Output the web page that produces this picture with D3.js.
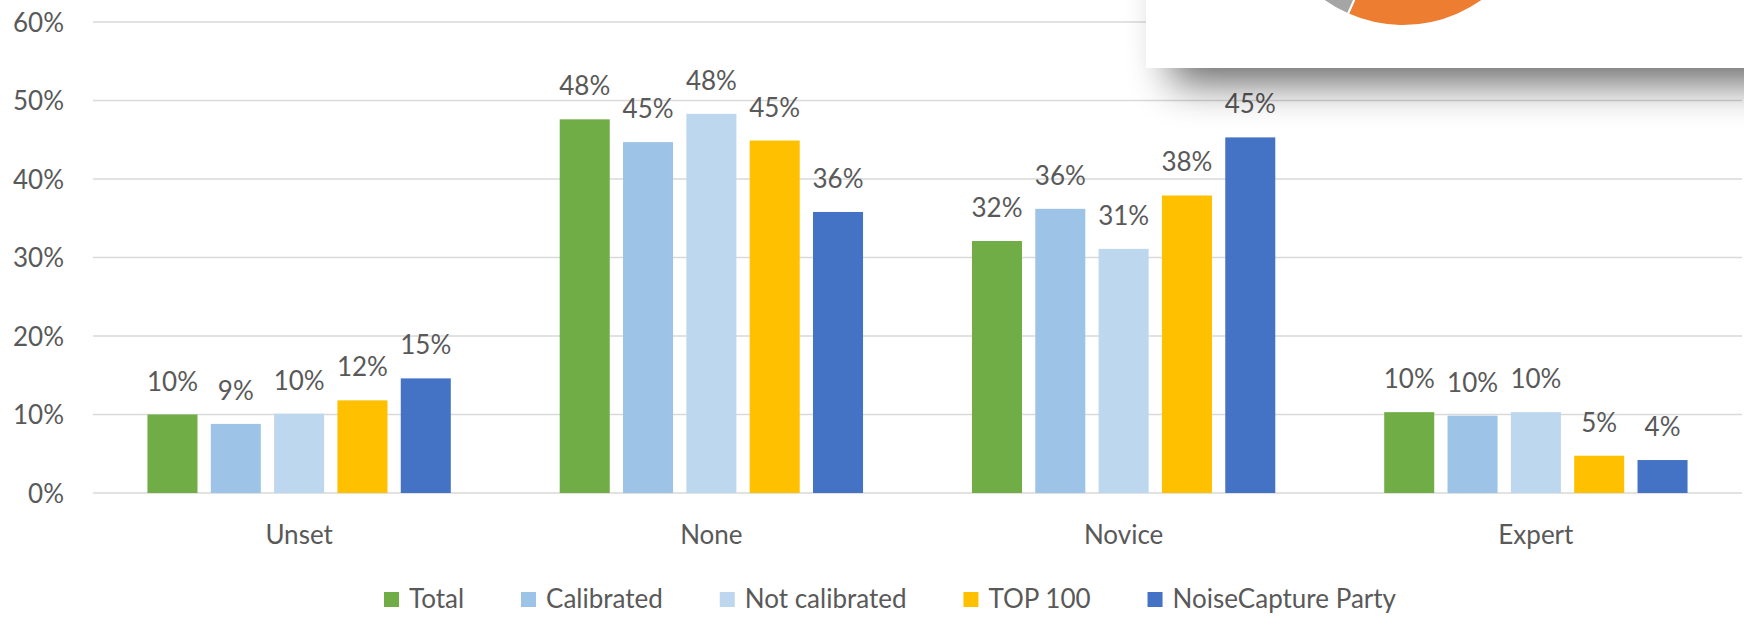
<!DOCTYPE html>
<html>
<head>
<meta charset="utf-8">
<script src="https://cdn.jsdelivr.net/npm/d3@7"></script>
<style>
  html, body { margin: 0; padding: 0; background: #ffffff; }
  svg { display: block; }
  text { font-family: Lato, "Noto Sans", sans-serif; fill: #595959; }
</style>
</head>
<body>
<svg id="chart" width="1744" height="617"></svg>
<script>
// ---- data (percent) ----
const categories = ["Unset", "None", "Novice", "Expert"];
const seriesNames = ["Total", "Calibrated", "Not calibrated", "TOP 100", "NoiseCapture Party"];
const totalValues        = [10.0, 47.6, 32.1, 10.3];
const calibratedValues   = [8.8, 44.7, 36.2, 9.85];
const notCalibratedValues= [10.1, 48.3, 31.1, 10.3];
const top100Values       = [11.8, 44.9, 37.9, 4.75];
const partyValues        = [14.6, 35.8, 45.3, 4.2];
const yTicks = [0, 10, 20, 30, 40, 50, 60];
// fragment of an overlapping pie chart (angles in radians, clockwise from 12 o'clock)
const insetSlices = [
  { name: "orange", start: 1.9, end: 3.56 },
  { name: "gray",   start: 3.56, end: 4.3 }
];

(function() {
const seriesValues = [totalValues, calibratedValues, notCalibratedValues, top100Values, partyValues];
const colors = ["#70AD47", "#9DC3E6", "#BDD7EE", "#FFC000", "#4472C4"];

const svg = d3.select("#chart");
const plotL = 93, plotR = 1742, plotT = 22, plotB = 493;

const x0 = d3.scaleBand().domain(categories).range([plotL, plotR]).paddingInner(0).paddingOuter(0);
const x1 = d3.scaleBand().domain(seriesNames).range([0, x0.bandwidth()]).paddingInner(0.21).paddingOuter(0.86);
const y = d3.scaleLinear().domain([0, 60]).range([plotB, plotT]);

// gridlines
svg.append("g").selectAll("line").data(yTicks).join("line")
  .attr("x1", plotL).attr("x2", plotR)
  .attr("y1", d => y(d)).attr("y2", d => y(d))
  .attr("stroke", "#D9D9D9").attr("stroke-width", 1.6);

// y axis labels
const yAxis = d3.axisLeft(y).tickValues(yTicks).tickFormat(d => d + "%").tickSize(0).tickPadding(0);
const yg = svg.append("g").attr("transform", "translate(64,0)").call(yAxis);
yg.select(".domain").remove();
yg.selectAll("text").attr("font-size", 26).attr("font-family", "Lato, 'Noto Sans', sans-serif").attr("fill", "#595959").attr("dy", "0.36em");

// bars
const groups = svg.append("g").selectAll("g").data(categories).join("g")
  .attr("transform", d => `translate(${x0(d)},0)`);

groups.each(function(cat, ci) {
  const g = d3.select(this);
  const rows = seriesNames.map((s, si) => ({ s, si, v: seriesValues[si][ci] }));
  g.selectAll("rect").data(rows).join("rect")
    .attr("x", d => x1(d.s)).attr("width", x1.bandwidth())
    .attr("y", d => y(d.v)).attr("height", d => y(0) - y(d.v))
    .attr("fill", d => colors[d.si]);
  g.selectAll("text.lbl").data(rows).join("text").attr("class", "lbl")
    .attr("x", d => x1(d.s) + x1.bandwidth() / 2)
    .attr("y", d => y(d.v) - 24)
    .attr("text-anchor", "middle").attr("font-size", 26)
    .text(d => Math.round(d.v) + "%");
});

// x axis category labels
const xAxis = d3.axisBottom(x0).tickSize(0).tickPadding(0);
const xg = svg.append("g").attr("transform", "translate(0,544)").call(xAxis);
xg.select(".domain").remove();
xg.selectAll("text").attr("font-size", 26).attr("font-family", "Lato, 'Noto Sans', sans-serif").attr("fill", "#595959").attr("dy", 0);

// legend
const legend = svg.append("g");
const lx0 = 384, lx1 = 1396, sq = 15, sqPad = 10;
const items = legend.selectAll("g").data(seriesNames).join("g");
items.append("rect").attr("width", sq).attr("height", sq).attr("y", 592)
  .attr("fill", (d, i) => colors[i]);
items.append("text").attr("x", sq + sqPad).attr("y", 608).attr("font-size", 26).text(d => d);
const widths = [];
items.each(function() { widths.push(sq + sqPad + d3.select(this).select("text").node().getComputedTextLength()); });
const gap = (lx1 - lx0 - d3.sum(widths)) / (seriesNames.length - 1);
let cx = lx0;
items.attr("transform", (d, i) => { const t = `translate(${cx},0)`; cx += widths[i] + gap; return t; });

// overlapping window with drop shadow (top-right)
const defs = svg.append("defs");
const f = defs.append("filter").attr("id", "blur").attr("x", "-50%").attr("y", "-50%").attr("width", "200%").attr("height", "200%");
f.append("feGaussianBlur").attr("stdDeviation", 21);
svg.append("rect").attr("x", 1171).attr("y", -200).attr("width", 800).attr("height", 283)
  .attr("fill", "#000").attr("opacity", 0.6).attr("filter", "url(#blur)");
svg.append("rect").attr("x", 1146).attr("y", -5).attr("width", 620).attr("height", 73).attr("fill", "#ffffff");
defs.append("clipPath").attr("id", "boxclip").append("rect").attr("x", 1146).attr("y", 0).attr("width", 600).attr("height", 68);
const arc = d3.arc().innerRadius(0).outerRadius(136).startAngle(d => d.start).endAngle(d => d.end);
svg.append("g").attr("clip-path", "url(#boxclip)")
  .append("g").attr("transform", "translate(1403,-110)")
  .selectAll("path").data(insetSlices).join("path")
  .attr("d", arc).attr("fill", d => d.name === "orange" ? "#ED7D31" : "#A5A5A5")
  .attr("stroke", "#ffffff").attr("stroke-width", 2);
})();
</script>
</body>
</html>
